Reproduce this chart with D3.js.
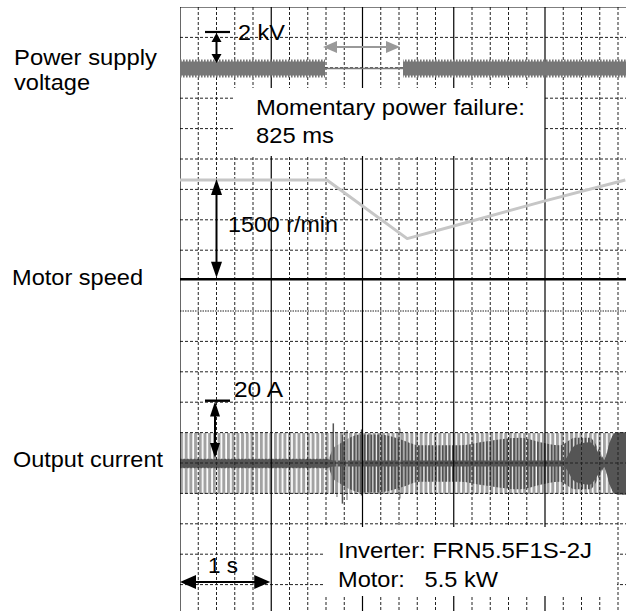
<!DOCTYPE html>
<html><head><meta charset="utf-8">
<script src="https://cdn.jsdelivr.net/npm/d3@7"></script>
<style>html,body{margin:0;padding:0;background:#fff;} svg{display:block;}</style>
</head><body>
<svg id="chart" width="626" height="611"></svg>
<script>
// ---------------- data ----------------
const majorTimes = [0, 1, 2, 3, 4, 5];           // s, solid grid lines (1 s / div)
const minorTimes = d3.range(0, 5.01, 0.2);        // s, dashed grid lines
const divisions  = d3.range(1, 20);               // horizontal divisions

// Power supply voltage envelope (kV peak)
const voltT    = [0, 1.589, 1.589, 2.444, 2.444, 4.9];
const voltPeak = [0.6, 0.6, 0, 0, 0.6, 0.6];
const voltCore = [0.46, 0.46, 0, 0, 0.46, 0.46];

// Motor speed (r/min)
const speedT   = [0, 1.61, 2.49, 3.0, 4.0, 4.88];
const speedRpm = [1500, 1500, 615, 805, 1185, 1500];

// Output current envelopes (A)
const curT     = [0, 4.9];
const curPeak  = [10, 10];
const curDarkT = [0, 1.62, 1.68, 1.75, 1.86, 1.97, 2.19, 2.41, 2.63, 2.85, 3.07, 3.29, 3.51, 3.73, 3.95, 4.16, 4.33, 4.49, 4.60, 4.65, 4.71, 4.77, 4.9];
const curDark  = [1.6, 1.6, 5, 6.5, 8.5, 9.5, 9.5, 8, 6, 6, 6, 7, 8, 8.5, 7, 6, 8.5, 8.5, 4, 1.5, 7, 10, 10.3];
const curCoreT = [0, 1.62, 1.68, 4.20, 4.33, 4.49, 4.60, 4.65, 4.71, 4.77, 4.9];
const curCore  = [1.4, 1.4, 1.0, 1.0, 6, 7, 3, 1.2, 7, 10, 10.3];
const spikeT   = [1.68, 1.72, 1.78, 1.83, 1.99, 2.41];
const spikeHi  = [13.2, 9, 9.5, 11, 11.2, 11.5];
const spikeLo  = [-10, -11, -13.2, -12, -10.5, -11.5];

// Text labels
const labelText = ["Power supply", "voltage", "Motor speed", "Output current", "2 kV",
  "Momentary power failure:", "825 ms", "1500 r/min", "20 A", "1 s",
  "Inverter: FRN5.5F1S-2J", "Motor:   5.5 kW"];
const labelX = [14, 14, 12, 13, 238, 256, 256, 228, 234, 208, 338, 338];
const labelY = [64.5, 89.5, 285, 467, 40, 115, 143, 231.5, 396.5, 573, 558, 586.5];
const labelW = [143, 76, 131, 150, 47, 269, 78, 110, 49, 30, 254, 160];

// ---------------- scales ----------------
const svg = d3.select("#chart");
const x = d3.scaleLinear().domain([0, 5]).range([180, 636.25]);
const yDiv = d3.scaleLinear().domain([0, 20]).range([7, 615]);
const ySpeed = d3.scaleLinear().domain([0, 1500]).range([279.3, 180]);
const yVolt = d3.scaleLinear().domain([-2, 2]).range([68.5 + 30.4, 68.5 - 30.4]);
const yCur = d3.scaleLinear().domain([-20, 20]).range([463.5 + 60.8, 463.5 - 60.8]);

const defs = svg.append("defs");
defs.append("clipPath").attr("id", "plotClip").append("rect")
  .attr("x", 180).attr("y", 7).attr("width", 446).attr("height", 604);

function stripePattern(id, period, w, color) {
  const p = defs.append("pattern").attr("id", id).attr("patternUnits", "userSpaceOnUse")
    .attr("x", 180).attr("y", 0).attr("width", period).attr("height", 20);
  p.append("rect").attr("x", 0).attr("y", 0).attr("width", w).attr("height", 20).attr("fill", color);
}
stripePattern("voltStripe", 3, 1.6, "#777");
stripePattern("curLight", 4.7, 3, "#a2a2a2");
stripePattern("curDarkPat", 3.4, 1.9, "#525252");

const plot = svg.append("g").attr("clip-path", "url(#plotClip)");

function envArea(T, A, yS, curve) {
  return d3.area().curve(curve || d3.curveLinear)
    .x(i => x(T[i])).y0(i => yS(-A[i])).y1(i => yS(A[i]));
}

// ---- output current ----
plot.append("path").datum(d3.range(curT.length))
  .attr("d", envArea(curT, curPeak, yCur)).attr("fill", "url(#curLight)");
plot.append("path").datum(d3.range(curDarkT.length))
  .attr("d", envArea(curDarkT, curDark, yCur, d3.curveMonotoneX)).attr("fill", "url(#curDarkPat)");
plot.append("path").datum(d3.range(curCoreT.length))
  .attr("d", envArea(curCoreT, curCore, yCur, d3.curveMonotoneX)).attr("fill", "#555");
plot.selectAll("line.spike").data(d3.range(spikeT.length)).join("line")
  .attr("x1", i => x(spikeT[i])).attr("x2", i => x(spikeT[i]))
  .attr("y1", i => yCur(spikeHi[i])).attr("y2", i => yCur(spikeLo[i]))
  .attr("stroke", (i) => i % 2 ? "#9a9a9a" : "#555").attr("stroke-width", 1.5);

// ---- grid ----
const grid = plot.append("g");
grid.selectAll("line.minor").data(minorTimes.filter(t => Math.abs(t - Math.round(t)) > 1e-6)).join("line")
  .attr("x1", d => x(d)).attr("x2", d => x(d)).attr("y1", 7).attr("y2", 611)
  .attr("stroke", "#222").attr("stroke-width", 1).attr("stroke-dasharray", "3,2");
grid.selectAll("line.hdiv").data(divisions.filter(d => d !== 9 && d !== 10)).join("line")
  .attr("x1", 180).attr("x2", 626).attr("y1", d => yDiv(d)).attr("y2", d => yDiv(d))
  .attr("stroke", "#222").attr("stroke-width", 1).attr("stroke-dasharray", "3,2");
grid.append("line").attr("x1", 180).attr("x2", 626).attr("y1", yDiv(10)).attr("y2", yDiv(10))
  .attr("stroke", "#222").attr("stroke-width", 1).attr("stroke-dasharray", "1.5,1");
grid.selectAll("line.major").data(majorTimes).join("line")
  .attr("x1", d => x(d)).attr("x2", d => x(d)).attr("y1", 7).attr("y2", 611)
  .attr("stroke", "#000").attr("stroke-width", 1.2);
grid.append("line").attr("x1", 180).attr("x2", 626).attr("y1", yDiv(0)).attr("y2", yDiv(0))
  .attr("stroke", "#000").attr("stroke-width", 1.2);
grid.append("line").attr("x1", 179).attr("x2", 626).attr("y1", ySpeed(0)).attr("y2", ySpeed(0))
  .attr("stroke", "#000").attr("stroke-width", 2.6);

// white boxes behind notes
svg.append("rect").attr("x", 234).attr("y", 88).attr("width", 309).attr("height", 68).attr("fill", "#fff");
svg.append("rect").attr("x", 323).attr("y", 527).attr("width", 294).attr("height", 69).attr("fill", "#fff");

// ---- power supply voltage ----
const vg = svg.append("g").attr("clip-path", "url(#plotClip)");
vg.append("path").datum(d3.range(voltT.length))
  .attr("d", d3.line().x(i => x(voltT[i])).y(() => yVolt(0)))
  .attr("fill", "none").attr("stroke", "#777").attr("stroke-width", 1.6);
vg.append("path").datum(d3.range(voltT.length))
  .attr("d", envArea(voltT, voltPeak, yVolt)).attr("fill", "url(#voltStripe)");
vg.append("path").datum(d3.range(voltT.length))
  .attr("d", envArea(voltT, voltCore, yVolt)).attr("fill", "#777");

// ---- motor speed ----
vg.append("path").datum(d3.range(speedT.length))
  .attr("d", d3.line().x(i => x(speedT[i])).y(i => ySpeed(speedRpm[i])))
  .attr("fill", "none").attr("stroke", "#c6c6c6").attr("stroke-width", 3).attr("stroke-linejoin", "round");

// ---- annotations ----
const ann = svg.append("g");
function head(px, py, dir, len, hw, color) {
  let pts;
  if (dir === "up") pts = [[px, py], [px - hw, py + len], [px + hw, py + len]];
  if (dir === "down") pts = [[px, py], [px - hw, py - len], [px + hw, py - len]];
  if (dir === "left") pts = [[px, py], [px + len, py - hw], [px + len, py + hw]];
  if (dir === "right") pts = [[px, py], [px - len, py - hw], [px - len, py + hw]];
  ann.append("polygon").attr("points", pts.map(p => p.join(",")).join(" ")).attr("fill", color);
}
function vArrow(px, y1, y2, len, hw, color, w) {
  ann.append("line").attr("x1", px).attr("x2", px).attr("y1", y1 + len - 1).attr("y2", y2 - len + 1)
    .attr("stroke", color).attr("stroke-width", w);
  head(px, y1, "up", len, hw, color);
  head(px, y2, "down", len, hw, color);
}
function hArrow(py, x1, x2, len, hw, color, w) {
  ann.append("line").attr("x1", x1 + len - 1).attr("x2", x2 - len + 1).attr("y1", py).attr("y2", py)
    .attr("stroke", color).attr("stroke-width", w);
  head(x1, py, "left", len, hw, color);
  head(x2, py, "right", len, hw, color);
}
// 2 kV
ann.append("line").attr("x1", 205).attr("x2", 230).attr("y1", 32).attr("y2", 32).attr("stroke", "#000").attr("stroke-width", 2.2);
vArrow(216.5, 33, 63, 9, 5, "#000", 2);
// power failure duration
hArrow(47, x(1.589) - 2, x(2.444) - 3, 14, 6, "#999", 2);
// 1500 r/min
vArrow(216.5, ySpeed(1500) - 1, ySpeed(0) - 1.5, 16, 5.5, "#000", 2);
// 20 A
ann.append("line").attr("x1", 205).attr("x2", 230).attr("y1", 400.7).attr("y2", 400.7).attr("stroke", "#000").attr("stroke-width", 2.4);
vArrow(215, 401.5, 458, 15, 5, "#000", 2);
// 1 s
hArrow(582, x(0), x(1) - 1, 16, 7, "#000", 2);

// ---- text ----
svg.append("g").selectAll("text").data(d3.range(labelText.length)).join("text")
  .attr("x", i => labelX[i]).attr("y", i => labelY[i])
  .attr("textLength", i => labelW[i]).attr("lengthAdjust", "spacingAndGlyphs")
  .style("white-space", "pre")
  .attr("font-family", "'Liberation Sans', Arial, sans-serif").attr("font-size", 22.5)
  .attr("fill", "#000").text(i => labelText[i]);
</script>
</body></html>
